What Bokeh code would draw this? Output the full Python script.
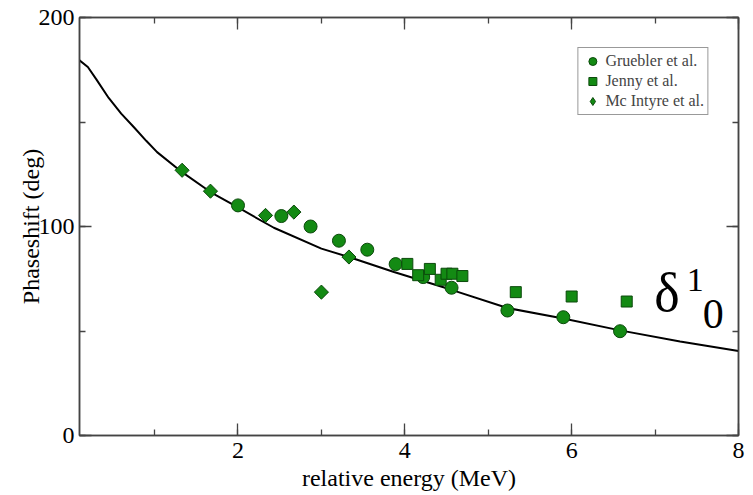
import math
from bokeh.plotting import figure
from bokeh.models import (LinearAxis, SingleIntervalTicker, Range1d, Legend, LegendItem, Label,
                          CustomJSTickFormatter)
from bokeh.embed import file_html
from bokeh.resources import INLINE

# --- data ---
curve_x = [0.1, 0.2, 0.3, 0.45, 0.6, 0.75, 0.9, 1.03, 1.33, 1.67, 2.0, 2.43, 3.0, 3.33,
           3.87, 4.56, 5.23, 5.9, 6.58, 7.3, 8.0]
curve_y = [179.5, 176.3, 170.5, 161.5, 154.0, 147.6, 141.0, 135.6, 126.0, 116.5, 109.1, 99.4,
           89.4, 85.4, 78.2, 69.7, 61.0, 56.0, 50.3, 45.0, 40.4]

gruebler_x = [2.0, 2.52, 2.87, 3.21, 3.55, 3.89, 4.22, 4.56, 5.23, 5.90, 6.58]
gruebler_y = [110.1, 105.0, 100.0, 93.2, 88.9, 82.0, 75.8, 70.7, 59.8, 56.6, 49.9]

jenny_x = [4.03, 4.16, 4.30, 4.43, 4.50, 4.57, 4.69, 5.33, 6.0, 6.66]
jenny_y = [82.1, 76.7, 79.7, 74.5, 77.4, 77.4, 76.3, 68.6, 66.5, 64.1]

mcintyre_x = [1.33, 1.67, 2.33, 2.67, 3.0, 3.33]
mcintyre_y = [126.9, 116.9, 105.3, 106.9, 68.6, 85.4]

legend_labels = ["Gruebler et al.", "Jenny et al.", "Mc Intyre et al."]

FONT = "Liberation Serif"
FILL = "#138a13"
EDGE = "#0c4a0c"
AXC = "#444444"

p = figure(width=753, height=495, output_backend="svg", toolbar_location=None,
           x_range=Range1d(0.1, 8), y_range=Range1d(0, 200),
           min_border_left=79, min_border_right=15, min_border_top=17, min_border_bottom=60,
           background_fill_color="white", border_fill_color="white")
p.grid.visible = False
p.outline_line_color = AXC
p.outline_line_width = 1.5

xt = SingleIntervalTicker(interval=2, num_minor_ticks=2)
yt = SingleIntervalTicker(interval=100, num_minor_ticks=2)

def style(ax, ticker, labels=True):
    ax.ticker = ticker
    ax.axis_line_color = AXC
    ax.axis_line_width = 1.5
    ax.major_tick_line_color = AXC
    ax.minor_tick_line_color = AXC
    ax.major_tick_line_width = 1.3
    ax.minor_tick_line_width = 1.3
    ax.major_tick_in = 12
    ax.major_tick_out = 0
    ax.minor_tick_in = 6
    ax.minor_tick_out = 0
    ax.major_label_text_font = FONT
    ax.major_label_text_color = "black"
    ax.axis_label_text_font = FONT
    ax.axis_label_text_font_style = "normal"
    ax.axis_label_text_color = "black"
    if not labels:
        ax.formatter = CustomJSTickFormatter(code="return ''")
        ax.major_label_standoff = 0

xa = p.xaxis[0]
style(xa, xt)
xa.axis_label = "relative energy (MeV)"
xa.axis_label_text_font_size = "24px"
xa.major_label_text_font_size = "24px"
xa.major_label_standoff = 7
xa.axis_label_standoff = 4

ya = p.yaxis[0]
style(ya, yt)
ya.axis_label = "Phaseshift (deg)"
ya.axis_label_text_font_size = "24px"
ya.major_label_text_font_size = "24px"
ya.major_label_standoff = 5
ya.axis_label_standoff = -8

top = LinearAxis()
style(top, SingleIntervalTicker(interval=2, num_minor_ticks=2), labels=False)
p.add_layout(top, "above")
right = LinearAxis()
style(right, SingleIntervalTicker(interval=100, num_minor_ticks=2), labels=False)
p.add_layout(right, "right")

p.line(curve_x, curve_y, line_color="black", line_width=2)

r1 = p.scatter(gruebler_x, gruebler_y, marker="circle", size=13, fill_color=FILL,
               line_color=EDGE, line_width=1)
r2 = p.scatter(jenny_x, jenny_y, marker="square", size=11, fill_color=FILL,
               line_color=EDGE, line_width=1)
r3 = p.scatter(mcintyre_x, mcintyre_y, marker="square", angle=math.pi / 4, size=10,
               fill_color=FILL, line_color=EDGE, line_width=1)
# legend key only (hidden in the plot): the legend cannot rotate markers
r3_key = p.scatter(mcintyre_x, mcintyre_y, marker="diamond", size=14, fill_color=FILL,
                   line_color=EDGE, line_width=1, visible=False)

legend = Legend(items=[LegendItem(label=legend_labels[0], renderers=[r1]),
                       LegendItem(label=legend_labels[1], renderers=[r2]),
                       LegendItem(label=legend_labels[2], renderers=[r3_key])],
                location="top_right", margin=30, padding=3, spacing=0,
                label_text_font=FONT, label_text_font_size="16px", label_height=20,
                glyph_width=22, glyph_height=20, label_standoff=2,
                border_line_color="#333333", border_line_width=1.2,
                background_fill_color="white", inactive_fill_alpha=0.0,
                click_policy="none")
p.add_layout(legend, "center")

p.add_layout(Label(x=6.99, y=68, text="δ", text_font=FONT, text_font_size="54px",
                   text_color="black", text_baseline="alphabetic"))
p.add_layout(Label(x=7.38, y=74.2, text="1", text_font=FONT, text_font_size="34px",
                   text_color="black", text_baseline="alphabetic"))
p.add_layout(Label(x=7.57, y=58, text="0", text_font=FONT, text_font_size="42px",
                   text_color="black", text_baseline="alphabetic"))

open("out.html", "w").write(file_html(p, INLINE))
